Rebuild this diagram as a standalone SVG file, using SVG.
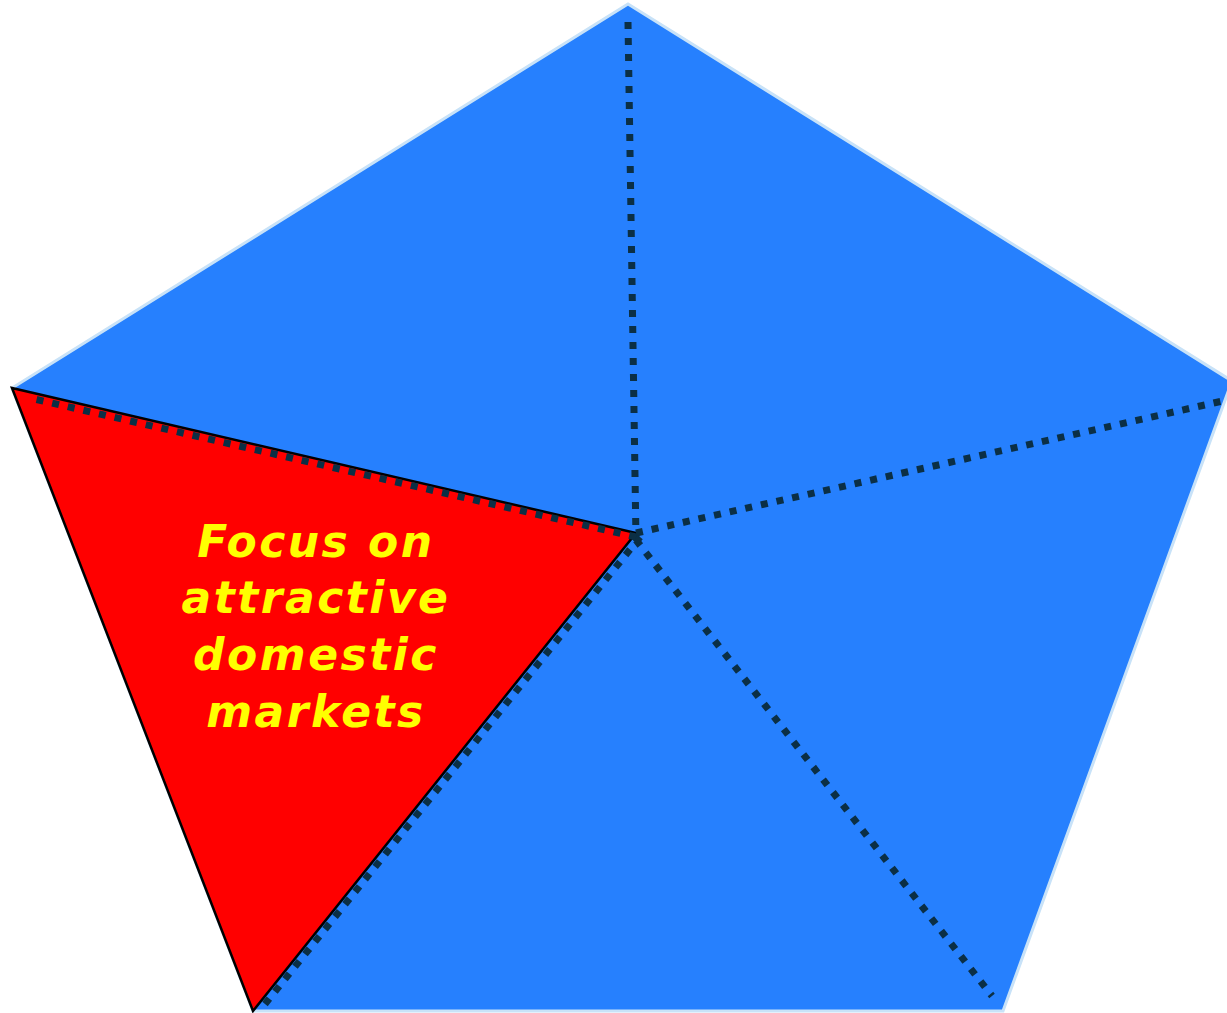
<svg xmlns="http://www.w3.org/2000/svg" width="1227" height="1013" viewBox="0 0 1227 1013">
<style>
.dot{stroke:#0b2f45;stroke-width:7;stroke-dasharray:7 9;fill:none}
.lbl{font-family:"DejaVu Sans",Verdana,sans-serif;font-weight:bold;font-style:italic;font-size:44px;letter-spacing:2.5px;fill:#ffff00;text-anchor:middle}
</style>
<rect width="1227" height="1013" fill="#ffffff"/>
<g id="pentagon">
<polygon points="628,4 1232,381 1003,1011 253,1011 12,388" fill="#2680fe" stroke="#c8e2f8" stroke-width="3"/>
</g>
<g id="focus-segment">
<polygon points="12,388 636,533 253,1011" fill="#ff0000" stroke="#000000" stroke-width="2.5"/>
<text class="lbl"><tspan x="316" y="557">Focus on</tspan><tspan x="316" y="613">attractive</tspan><tspan x="316" y="670">domestic</tspan><tspan x="316" y="727">markets</tspan></text>
</g>
<g id="connectors">
<line class="dot" x1="628" y1="22" x2="636" y2="540"/>
<line class="dot" x1="636" y1="533" x2="1227" y2="400"/>
<line class="dot" x1="636" y1="540" x2="992" y2="996"/>
<line class="dot" x1="640" y1="537" x2="265" y2="1004"/>
<line class="dot" x1="636" y1="537" x2="30" y2="398"/>
</g>
</svg>
